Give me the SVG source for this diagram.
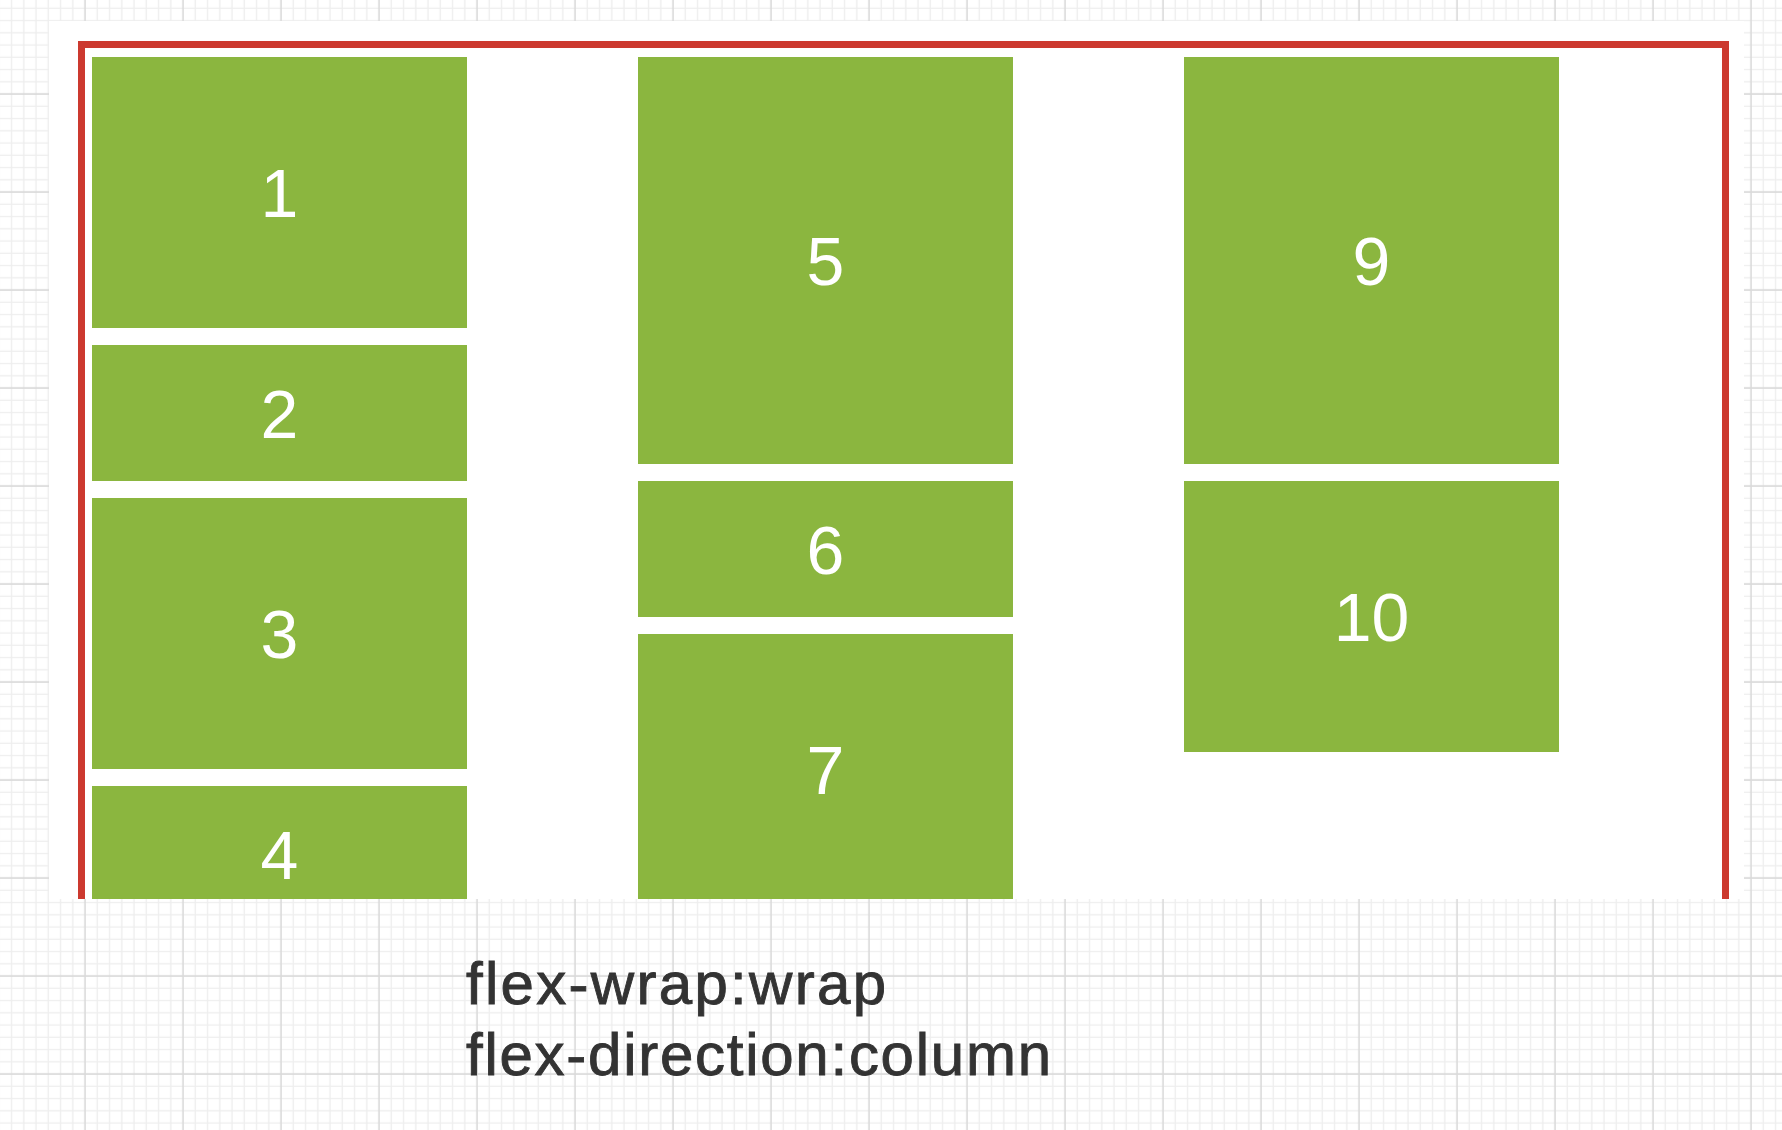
<svg xmlns="http://www.w3.org/2000/svg" width="1782" height="1130" viewBox="0 0 1782 1130">
  <defs>
    <pattern id="grid" patternUnits="userSpaceOnUse" x="78.875" y="87.875" width="98" height="98">
      <path d="M18.375 0V98M30.625 0V98M42.875 0V98M55.125 0V98M67.375 0V98M79.625 0V98M91.875 0V98M0 18.375H98M0 30.625H98M0 42.875H98M0 55.125H98M0 67.375H98M0 79.625H98M0 91.875H98" stroke="#eeeeee" stroke-width="1.4" fill="none"/>
      <path d="M6.125 0V98M0 6.125H98" stroke="#dadada" stroke-width="1.6" fill="none"/>
    </pattern>
    <clipPath id="panelClip">
      <rect x="49" y="21" width="1695" height="878"/>
    </clipPath>
  </defs>
  <style>
    .box { fill: #8bb63f; }
    .num { fill: #ffffff; font-family: "Liberation Sans", Arial, sans-serif; font-size: 68px; text-anchor: middle; }
    .cap { fill: #333333; stroke: #333333; stroke-width: 0.9px; font-family: "Liberation Sans", Arial, sans-serif; font-size: 60px; }
  </style>
  <rect x="0" y="0" width="1782" height="1130" fill="#ffffff"/>
  <rect x="0" y="0" width="1782" height="1130" fill="url(#grid)"/>
  <rect x="49" y="21" width="1695" height="878" fill="#ffffff"/>
  <g clip-path="url(#panelClip)">
    <rect id="container" x="81.5" y="44.5" width="1644" height="1000" fill="none" stroke="#cc392f" stroke-width="7"/>
    <g id="node1"><rect class="box" x="92" y="57" width="375" height="271"/><text class="num" x="279.5" y="217">1</text></g>
    <g id="node2"><rect class="box" x="92" y="345" width="375" height="136"/><text class="num" x="279.5" y="437.5">2</text></g>
    <g id="node3"><rect class="box" x="92" y="498" width="375" height="271"/><text class="num" x="279.5" y="658">3</text></g>
    <g id="node4"><rect class="box" x="92" y="786" width="375" height="136"/><text class="num" x="279.5" y="878.5">4</text></g>
    <g id="node5"><rect class="box" x="638" y="57" width="375" height="407"/><text class="num" x="825.5" y="285">5</text></g>
    <g id="node6"><rect class="box" x="638" y="481" width="375" height="136"/><text class="num" x="825.5" y="573.5">6</text></g>
    <g id="node7"><rect class="box" x="638" y="634" width="375" height="271"/><text class="num" x="825.5" y="794">7</text></g>
    <g id="node9"><rect class="box" x="1184" y="57" width="375" height="407"/><text class="num" x="1371.5" y="285">9</text></g>
    <g id="node10"><rect class="box" x="1184" y="481" width="375" height="271"/><text class="num" x="1371.5" y="641">10</text></g>
  </g>
  <g id="caption">
    <text class="cap" x="466" y="1003.5" textLength="420" lengthAdjust="spacing">flex-wrap:wrap</text>
    <text class="cap" x="466" y="1075" textLength="585" lengthAdjust="spacing">flex-direction:column</text>
  </g>
</svg>
